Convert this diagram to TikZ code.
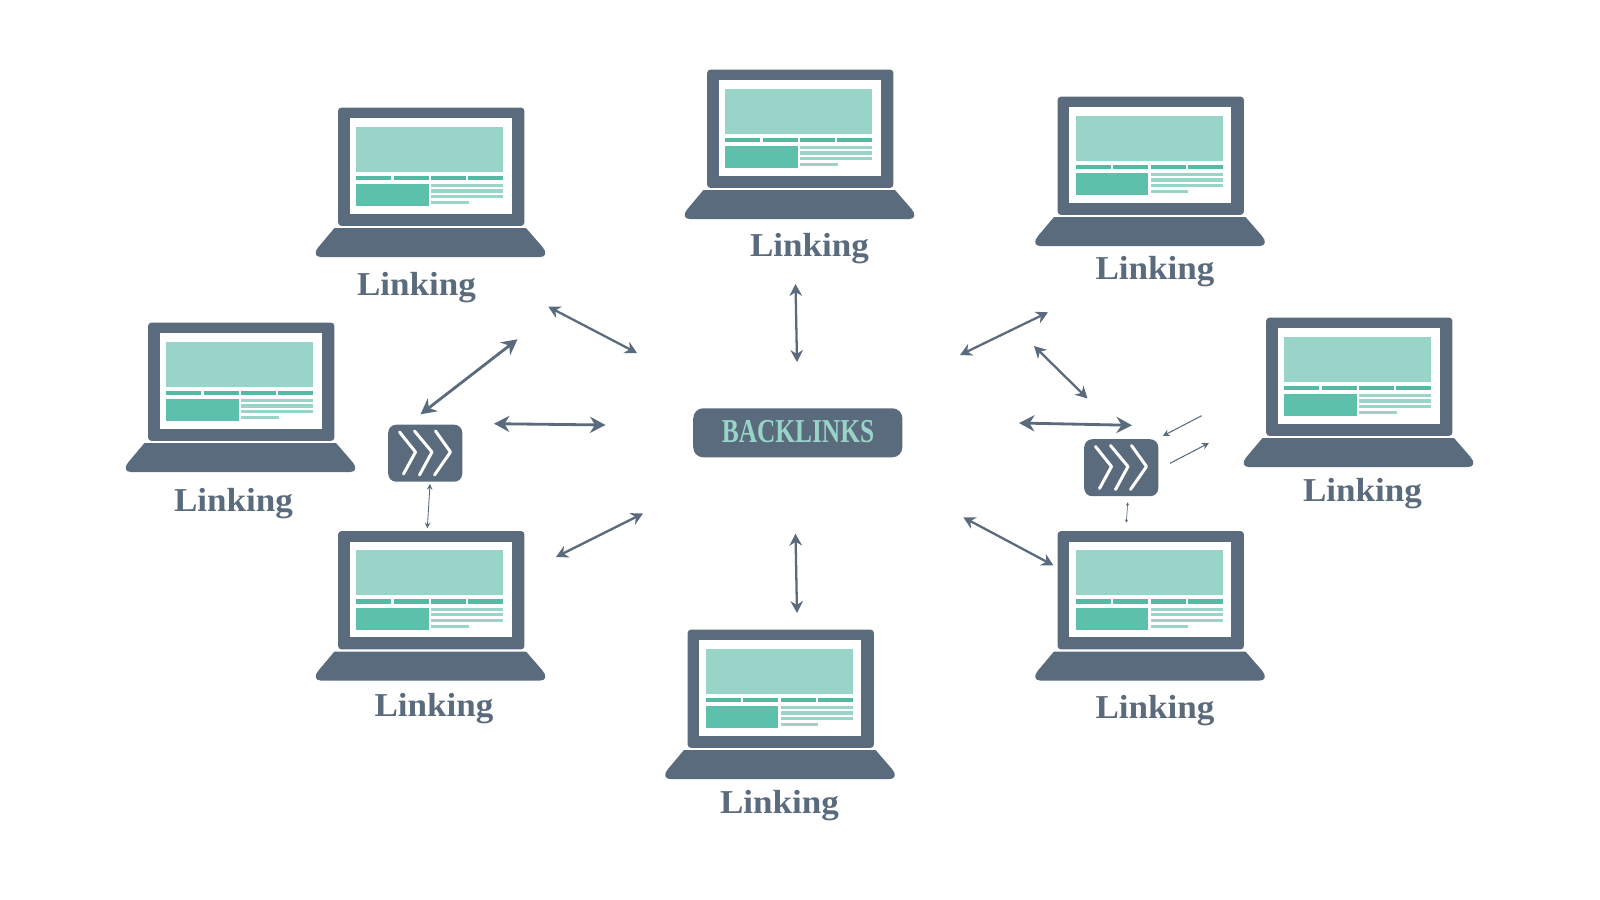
\documentclass[tikz,border=0pt]{standalone}
\usepackage{fontspec}
\setmainfont{Liberation Serif}
\usetikzlibrary{arrows.meta}
\definecolor{slateblue}{HTML}{5B6B7E}
\definecolor{mintpale}{HTML}{98D5C8}
\definecolor{mintmid}{HTML}{5DC0AB}
\definecolor{mintbar}{HTML}{55BAA3}
\tikzset{
  lid/.style={fill=slateblue, rounded corners=0.03cm, minimum width=1.86cm, minimum height=1.18cm, inner sep=0pt, anchor=north west},
  linkinglabel/.style={text=slateblue, font=\fontsize{9.5pt}{11pt}\selectfont\bfseries, anchor=base, xscale=1.05, inner sep=0pt},
  iconbox/.style={fill=slateblue, rounded corners=0.08cm, minimum width=0.74cm, minimum height=0.57cm, inner sep=0pt, anchor=north west},
  thicklink/.style={draw=slateblue, line width=0.8pt, {Stealth[length=4.4pt,width=4.6pt]}-{Stealth[length=4.4pt,width=4.6pt]}},
  midlink/.style={draw=slateblue, line width=0.65pt, {Stealth[length=3.4pt,width=3.6pt]}-{Stealth[length=3.4pt,width=3.6pt]}},
  thinlink/.style={draw=slateblue, line width=0.25pt, {Stealth[length=1.6pt,width=1.6pt]}-{Stealth[length=1.6pt,width=1.6pt]}},
  tinylink/.style={draw=slateblue, line width=0.2pt, {Stealth[length=0.9pt,width=0.9pt]}-{Stealth[length=0.9pt,width=0.9pt]}},
  onelink/.style={draw=slateblue, line width=0.3pt, -{Stealth[length=2pt,width=2pt]}},
  pics/laptop/.style={code={
    \node (-lid) [lid] at (0,0) {};
    \fill[white] (12,11) rectangle (174,106.5);
    \fill[mintpale] (18.5,19.5) rectangle (165.5,64.5);
    \fill[mintbar] (18.5,68.5) rectangle (53.5,73);
    \fill[mintbar] (56,68.5) rectangle (91,73);
    \fill[mintbar] (93.5,68.5) rectangle (128.5,73);
    \fill[mintbar] (130.5,68.5) rectangle (165.5,73);
    \fill[mintmid] (18.5,77) rectangle (91,99);
    \fill[mintpale] (93.5,77) rectangle (165.5,80);
    \fill[mintpale] (93.5,82) rectangle (165.5,85.5);
    \fill[mintpale] (93.5,88) rectangle (165.5,91);
    \fill[mintpale] (93.5,94) rectangle (131,97);
    \fill[slateblue] (-3,121) -- (188.5,121) -- (205,140) .. controls (209.5,145) and (208.5,150) .. (203,150)
      -- (-17,150) .. controls (-22.5,150) and (-23.5,145) .. (-19,140) -- cycle;
  }},
  pics/chevrons/.style={code={
    \node (-box) [iconbox] at (0,0) {};
    \draw[white, line width=0.85pt, line cap=round, line join=round] (12,8) -- (28,28) -- (16,50);
    \draw[white, line width=0.85pt, line cap=round, line join=round] (27,7) -- (44.5,28) -- (32,51);
    \draw[white, line width=0.85pt, line cap=round, line join=round] (48,7) -- (63,28) -- (47,51);
  }}
}
\begin{document}
\begin{tikzpicture}[x=0.01cm, y=-0.01cm]
\useasboundingbox (0,0) rectangle (1600,900);

% Laptops
\pic (A) at (337.5,107) {laptop};
\pic (B) at (706.5,69) {laptop};
\pic (C) at (1057,96) {laptop};
\pic (D) at (147.5,322) {laptop};
\pic (E) at (1265.5,317) {laptop};
\pic (F) at (337.5,530.5) {laptop};
\pic (G) at (687,629) {laptop};
\pic (H) at (1057,530.5) {laptop};

% Laptop labels
\node (labelA) [linkinglabel] at (416.5,295) {Linking};
\node (labelB) [linkinglabel] at (809.5,256.5) {Linking};
\node (labelC) [linkinglabel] at (1155,279) {Linking};
\node (labelD) [linkinglabel] at (233.5,511) {Linking};
\node (labelE) [linkinglabel] at (1362.5,501.5) {Linking};
\node (labelF) [linkinglabel] at (434,716.5) {Linking};
\node (labelG) [linkinglabel] at (779.5,813.5) {Linking};
\node (labelH) [linkinglabel] at (1155,718.5) {Linking};

% Centre box
\node (hub) [fill=slateblue, rounded corners=0.1cm, minimum width=2.09cm, minimum height=0.49cm, inner sep=0pt] at (797.8,432.8) {};
\node (hubtext) [text=mintpale, font=\fontsize{9.5pt}{11pt}\selectfont\bfseries, xscale=0.76, inner sep=0pt] at (798,432) {BACKLINKS};

% Relay icons
\pic (iconL) at (387.5,424) {chevrons};
\pic (iconR) at (1083.5,438.5) {chevrons};

% Arrow ends
\coordinate (L1a) at (517.5,339.3); \coordinate (L1b) at (420.5,414.3);
\coordinate (L2a) at (494,423.7);   \coordinate (L2b) at (605.5,425);
\coordinate (L3a) at (548.3,306.7); \coordinate (L3b) at (637,353);
\coordinate (L4a) at (430,484);     \coordinate (L4b) at (427.3,528.3);
\coordinate (L5a) at (643,513.5);   \coordinate (L5b) at (556,557);
\coordinate (M1a) at (795.5,284);   \coordinate (M1b) at (797,362);
\coordinate (M2a) at (795.5,533.7); \coordinate (M2b) at (797,613);
\coordinate (R1a) at (1048,312.3);  \coordinate (R1b) at (960,355);
\coordinate (R2a) at (1034,346);    \coordinate (R2b) at (1087.5,398.5);
\coordinate (R3a) at (1019,423);    \coordinate (R3b) at (1132,425.3);
\coordinate (R4a) at (1201.7,415.7); \coordinate (R4b) at (1162.7,436);
\coordinate (R5a) at (1170,463.3);  \coordinate (R5b) at (1209,443);
\coordinate (R6a) at (1127.7,502.3); \coordinate (R6b) at (1126.3,522.7);
\coordinate (R7a) at (963.3,517.3); \coordinate (R7b) at (1053.5,565.4);

% Arrows
\draw[thicklink] (L1a) -- (L1b);
\draw[thicklink] (L2a) -- (L2b);
\draw[midlink] (L3a) -- (L3b);
\draw[thinlink] (L4a) -- (L4b);
\draw[midlink] (L5a) -- (L5b);
\draw[midlink] (M1a) -- (M1b);
\draw[midlink] (M2a) -- (M2b);
\draw[midlink] (R1a) -- (R1b);
\draw[midlink] (R2a) -- (R2b);
\draw[thicklink] (R3a) -- (R3b);
\draw[onelink] (R4a) -- (R4b);
\draw[onelink] (R5a) -- (R5b);
\draw[tinylink] (R6a) -- (R6b);
\draw[midlink] (R7a) -- (R7b);
\end{tikzpicture}
\end{document}
